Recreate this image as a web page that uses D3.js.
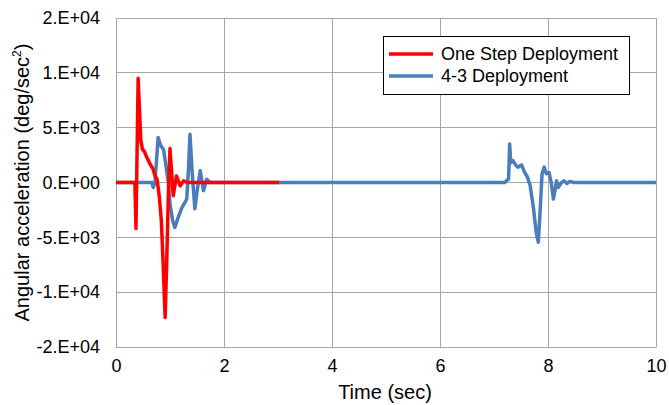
<!DOCTYPE html>
<html>
<head>
<meta charset="utf-8">
<script src="https://cdn.jsdelivr.net/npm/d3@7"></script>
<style>
  body { margin: 0; background: #fff; }
  text { font-family: "Liberation Sans", Arial, sans-serif; fill: #000; }
</style>
</head>
<body>
<div id="plot"></div>
<script>
// red series: one step deployment
var oneStepTime = [0, 0.35, 0.37, 0.41, 0.46, 0.49, 0.53, 0.57, 0.63, 0.69, 0.72, 0.76, 0.80, 0.84, 0.875, 0.91, 0.94, 0.97, 1.0, 1.03, 1.06, 1.12, 1.19, 1.25, 1.32, 3.02];
var oneStepAcc  = [0, 0, -4200, 9500, 3800, 3050, 2800, 2300, 1700, 1200, 640, 300, -1200, -3500, -7700, -12300, -7100, -1000, 3100, 1000, -1200, 600, -300, 150, 0, 0];

// blue series: 4-3 deployment
var fourThreeTime = [0, 0.66, 0.69, 0.72, 0.75, 0.78, 0.83, 0.88, 0.92, 0.97, 1.0, 1.05, 1.09, 1.15, 1.22, 1.28, 1.31, 1.34, 1.37, 1.41, 1.46, 1.51, 1.56, 1.62, 1.68, 1.74,
  7.2, 7.24, 7.27, 7.29, 7.31, 7.35, 7.40, 7.44, 7.51, 7.57, 7.62, 7.67, 7.73, 7.78, 7.82, 7.85, 7.89, 7.93, 7.97, 8.02, 8.06, 8.10, 8.16, 8.19, 8.25, 8.30, 8.35, 8.40, 8.48, 10];
var fourThreeAcc  = [0, 0, -450, 0, 2000, 4100, 3350, 3000, 1700, 0, -1950, -3500, -4100, -3200, -2300, -1800, -1500, 1000, 4400, 1000, -2400, -500, 1070, -750, 300, 0,
  0, 200, 300, 3500, 1800, 2000, 1600, 1400, 1600, 900, 500, -300, -2300, -4500, -5450, -3000, 800, 1400, 800, 900, 0, -1500, 150, -450, 0, 150, -100, 100, 0, 0];

var xTicks = [0, 2, 4, 6, 8, 10];
var yTicks = [-15000, -10000, -5000, 0, 5000, 10000, 15000];
var yTickLabels = ["-2.E+04", "-1.E+04", "-5.E+03", "0.E+00", "5.E+03", "1.E+04", "2.E+04"];
var seriesNames = ["One Step Deployment", "4-3 Deployment"];
var seriesColors = ["#ff0000", "#4a7ebb"];

const w = 669;
const h = 405;
const plotLeft = 116, plotRight = 656, plotTop = 18, plotBottom = 347;

const xScale = d3.scaleLinear().domain([0, 10]).range([plotLeft, plotRight]);
const yScale = d3.scaleLinear().domain([-15000, 15000]).range([plotBottom, plotTop]);

const svg = d3.select("div#plot")
  .append("svg")
  .attr("width", w)
  .attr("height", h);

// gridlines
svg.append("g")
  .selectAll("line")
  .data(yTicks)
  .enter()
  .append("line")
  .attr("x1", plotLeft).attr("x2", plotRight)
  .attr("y1", d => yScale(d)).attr("y2", d => yScale(d))
  .attr("stroke", "#a6a6a6").attr("stroke-width", 1)
  .attr("shape-rendering", "crispEdges");

svg.append("g")
  .selectAll("line")
  .data(xTicks)
  .enter()
  .append("line")
  .attr("y1", plotTop).attr("y2", plotBottom)
  .attr("x1", d => xScale(d)).attr("x2", d => xScale(d))
  .attr("stroke", "#a6a6a6").attr("stroke-width", 1)
  .attr("shape-rendering", "crispEdges");

// axes, tick labels only
const xAxis = d3.axisBottom(xScale).tickValues(xTicks).tickSize(0).tickPadding(12).tickFormat(d => d);
const yAxis = d3.axisLeft(yScale).tickValues(yTicks).tickSize(0).tickPadding(16)
  .tickFormat((d, i) => yTickLabels[i]);

const gx = svg.append("g").attr("transform", `translate(0, ${plotBottom})`).call(xAxis);
const gy = svg.append("g").attr("transform", `translate(${plotLeft}, 0)`).call(yAxis);
[gx, gy].forEach(g => {
  g.select(".domain").attr("stroke", "#a6a6a6");
  g.selectAll("text").style("font-size", "18px").attr("fill", "#000")
    .style("font-family", "'Liberation Sans', Arial, sans-serif");
});

// lines
const line = d3.line()
  .x(d => xScale(d[0]))
  .y(d => yScale(d[1]));

const blueData = fourThreeTime.map((t, i) => [t, fourThreeAcc[i]]);
const redData = oneStepTime.map((t, i) => [t, oneStepAcc[i]]);

svg.append("path")
  .datum(blueData)
  .attr("fill", "none")
  .attr("stroke", seriesColors[1])
  .attr("stroke-width", 3.5)
  .attr("stroke-linejoin", "round")
  .attr("d", line);

svg.append("path")
  .datum(redData)
  .attr("fill", "none")
  .attr("stroke", seriesColors[0])
  .attr("stroke-width", 3.5)
  .attr("stroke-linejoin", "round")
  .attr("d", line);

// legend
const legend = svg.append("g");
legend.append("rect")
  .attr("x", 383.5).attr("y", 36.5)
  .attr("width", 246).attr("height", 58)
  .attr("fill", "#fff").attr("stroke", "#000").attr("stroke-width", 1);

seriesNames.forEach((name, i) => {
  const yy = 54 + i * 22;
  legend.append("line")
    .attr("x1", 389).attr("x2", 433)
    .attr("y1", yy).attr("y2", yy)
    .attr("stroke", seriesColors[i]).attr("stroke-width", 3.5);
  legend.append("text")
    .attr("x", 441).attr("y", yy + 6)
    .style("font-size", "18px")
    .text(name);
});

// axis titles
svg.append("text")
  .attr("x", (plotLeft + plotRight) / 2 - 1)
  .attr("y", 399)
  .attr("text-anchor", "middle")
  .style("font-size", "20px")
  .text("Time (sec)");

const yTitle = svg.append("text")
  .attr("transform", `translate(29, ${(plotTop + plotBottom) / 2}) rotate(-90)`)
  .attr("text-anchor", "middle")
  .style("font-size", "20px");
yTitle.append("tspan").text("Angular acceleration (deg/sec");
yTitle.append("tspan").attr("dy", -8).style("font-size", "12px").text("2");
yTitle.append("tspan").attr("dy", 8).text(")");
</script>
</body>
</html>
